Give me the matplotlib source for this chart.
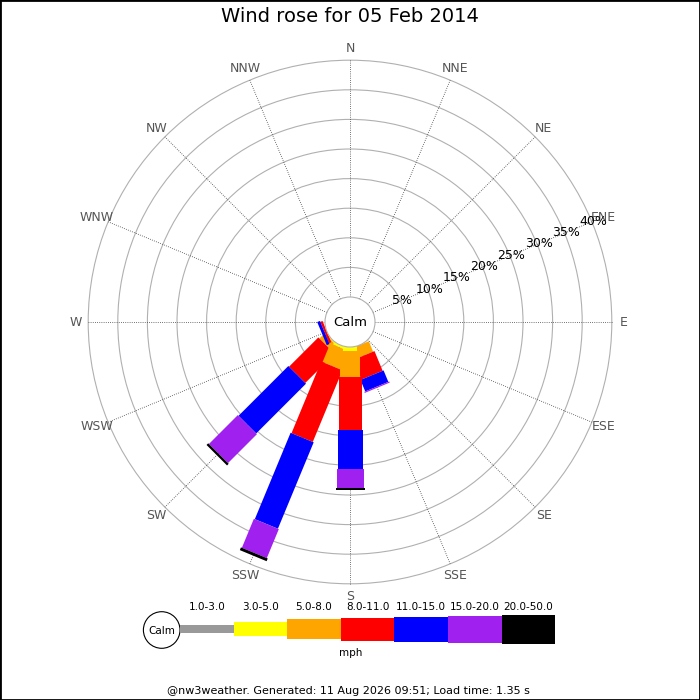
import numpy as np
import matplotlib
matplotlib.use('Agg')
import matplotlib.pyplot as plt
from matplotlib.patches import Circle, Polygon, Rectangle

# compass points, clockwise from north
directions = ['N', 'NNE', 'NE', 'ENE', 'E', 'ESE', 'SE', 'SSE',
              'S', 'SSW', 'SW', 'WSW', 'W', 'WNW', 'NW', 'NNW']
speed_ranges = ['1.0-3.0', '3.0-5.0', '5.0-8.0', '8.0-11.0',
                '11.0-15.0', '15.0-20.0', '20.0-50.0']
range_colors = ['#999999', '#ffff00', '#ffa500', '#ff0000',
                '#0000ff', '#a020f0', '#000000']
ring_pcts = [5, 10, 15, 20, 25, 30, 35, 40]

# % of the day per speed range, one list per direction that had wind
freq_sse = [0, 0, 1.9, 3.6, 2.1, 0.2, 0]
freq_sw = [0, 0.2, 1.2, 7.0, 11.9, 6.9, 0.4]
freq_ssw = [0, 0.4, 3.4, 13.1, 15.8, 5.3, 0.5]
freq_s = [0, 0.6, 4.5, 8.9, 6.6, 3.3, 0.3]
freq_wsw = [0, 0, 0, 0.4, 0.5, 0, 0]

# drawing order matters where legs overlap near the middle
legs = [('SSE', freq_sse), ('SW', freq_sw), ('SSW', freq_ssw),
        ('S', freq_s), ('WSW', freq_wsw)]

PX = 5.92            # pixels per percent
calm_r = 25 / PX     # calm circle radius in percent units
leg_px = [8, 14, 20, 23, 25, 27, 29]   # leg thickness per range, pixels
leg_w = [w / PX for w in leg_px]

fig = plt.figure(figsize=(7, 7), dpi=100)

# full-figure pixel axes for legend and footer
lax = fig.add_axes([0, 0, 1, 1])
lax.set_xlim(0, 700)
lax.set_ylim(700, 0)
lax.axis('off')

# rose axes: centre at pixel (350, 322)
half = 300
ax = fig.add_axes([(350 - half) / 700, (700 - 322 - half) / 700,
                   2 * half / 700, 2 * half / 700])
lim = half / PX
ax.set_xlim(-lim, lim)
ax.set_ylim(-lim, lim)
ax.axis('off')

outer = calm_r + ring_pcts[-1]

for p in ring_pcts:
    ax.add_patch(Circle((0, 0), calm_r + p, fill=False, ec='#b0b0b0',
                        lw=0.8, zorder=1))

for i, d in enumerate(directions):
    a = np.radians(i * 22.5)
    ux, uy = np.sin(a), np.cos(a)
    ax.plot([calm_r * ux, outer * ux], [calm_r * uy, outer * uy],
            color='#444444', lw=0.6, dashes=(1, 1.6), zorder=1)
    lr = 274 / PX
    ax.text(lr * ux, lr * uy, d, ha='center', va='center', fontsize=9,
            color='#555555')

# percentage labels along the ENE spoke
a = np.radians(67.5)
for p in ring_pcts:
    r = calm_r + p + 0.3
    ax.text(r * np.sin(a), r * np.cos(a), f'{p}%', ha='center', va='center',
            fontsize=9, color='black', zorder=6)

# legs
for name, vals in legs:
    a = np.radians(directions.index(name) * 22.5)
    ux, uy = np.sin(a), np.cos(a)
    px_, py_ = np.cos(a), -np.sin(a)
    r0 = calm_r
    for k, v in enumerate(vals):
        if v <= 0:
            continue
        r1 = r0 + v
        hw = leg_w[k] / 2
        pts = [(r0 * ux + hw * px_, r0 * uy + hw * py_),
               (r1 * ux + hw * px_, r1 * uy + hw * py_),
               (r1 * ux - hw * px_, r1 * uy - hw * py_),
               (r0 * ux - hw * px_, r0 * uy - hw * py_)]
        ax.add_patch(Polygon(pts, closed=True, fc=range_colors[k],
                             ec='none', zorder=3))
        r0 = r1

ax.add_patch(Circle((0, 0), calm_r, fc='white', ec='#b0b0b0', lw=0.8,
                    zorder=5))
ax.text(0, 0, 'Calm', ha='center', va='center', fontsize=9.5, zorder=6)

# legend
lax.add_patch(Circle((161.7, 630), 18.3, fc='white', ec='black', lw=0.8))
lax.text(161.7, 630.5, 'Calm', ha='center', va='center', fontsize=7.5)
seg = 53.6
for k, lbl in enumerate(speed_ranges):
    x0 = 180 + k * seg
    h = leg_px[k]
    lax.add_patch(Rectangle((x0, 629 - h / 2), seg, h, fc=range_colors[k],
                            ec='none'))
    lax.text(x0 + seg / 2, 606.5, lbl, ha='center', va='center',
             fontsize=7.5)
lax.text(350.8, 653.5, 'mph', ha='center', va='center', fontsize=7.5)
lax.text(348, 691.5,
         '@nw3weather. Generated: 11 Aug 2026 09:51; Load time: 1.35 s',
         ha='center', va='center', fontsize=8)

fig.text(0.5, 1 - 17 / 700, 'Wind rose for 05 Feb 2014', ha='center',
         va='center', fontsize=14)
fig.patches.append(Rectangle((0, 0), 1, 1, transform=fig.transFigure,
                             fill=False, ec='black', lw=2))

fig.savefig('out.png', dpi=100)
